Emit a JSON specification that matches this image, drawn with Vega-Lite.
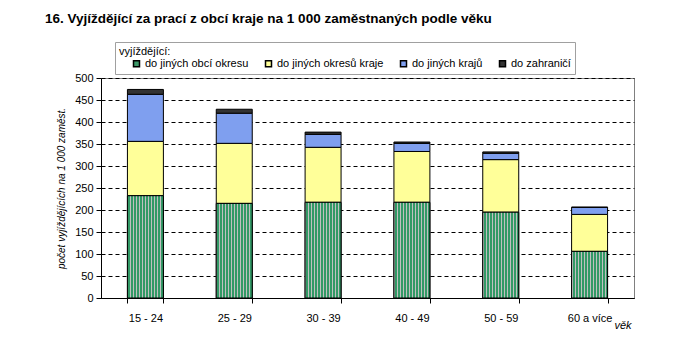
{
  "$schema": "https://vega.github.io/schema/vega-lite/v6.json",
  "width": 533,
  "height": 220,
  "autosize": {"type": "none"},
  "padding": {"left": 101, "top": 78, "right": 51, "bottom": 58},
  "background": "white",
  "title": {
    "text": "16. Vyjíždějící za prací z obcí kraje na 1 000 zaměstnaných podle věku",
    "anchor": "start",
    "frame": "group",
    "font": "Liberation Sans, Arial",
    "fontSize": 13.5,
    "fontWeight": "bold",
    "color": "black",
    "dx": -56,
    "dy": -12
  },
  "data": {
    "values": [
      {"vek": "15 - 24", "serie": "do jiných obcí okresu", "poradi": 1, "hodnota": 232.5},
      {"vek": "15 - 24", "serie": "do jiných okresů kraje", "poradi": 2, "hodnota": 123.5},
      {"vek": "15 - 24", "serie": "do jiných krajů", "poradi": 3, "hodnota": 107},
      {"vek": "15 - 24", "serie": "do zahraničí", "poradi": 4, "hodnota": 11},
      {"vek": "25 - 29", "serie": "do jiných obcí okresu", "poradi": 1, "hodnota": 215},
      {"vek": "25 - 29", "serie": "do jiných okresů kraje", "poradi": 2, "hodnota": 136.5},
      {"vek": "25 - 29", "serie": "do jiných krajů", "poradi": 3, "hodnota": 68.5},
      {"vek": "25 - 29", "serie": "do zahraničí", "poradi": 4, "hodnota": 9},
      {"vek": "30 - 39", "serie": "do jiných obcí okresu", "poradi": 1, "hodnota": 217.5},
      {"vek": "30 - 39", "serie": "do jiných okresů kraje", "poradi": 2, "hodnota": 125},
      {"vek": "30 - 39", "serie": "do jiných krajů", "poradi": 3, "hodnota": 29.5},
      {"vek": "30 - 39", "serie": "do zahraničí", "poradi": 4, "hodnota": 5},
      {"vek": "40 - 49", "serie": "do jiných obcí okresu", "poradi": 1, "hodnota": 217.5},
      {"vek": "40 - 49", "serie": "do jiných okresů kraje", "poradi": 2, "hodnota": 115.5},
      {"vek": "40 - 49", "serie": "do jiných krajů", "poradi": 3, "hodnota": 18.5},
      {"vek": "40 - 49", "serie": "do zahraničí", "poradi": 4, "hodnota": 3},
      {"vek": "50 - 59", "serie": "do jiných obcí okresu", "poradi": 1, "hodnota": 195},
      {"vek": "50 - 59", "serie": "do jiných okresů kraje", "poradi": 2, "hodnota": 119.5},
      {"vek": "50 - 59", "serie": "do jiných krajů", "poradi": 3, "hodnota": 14.5},
      {"vek": "50 - 59", "serie": "do zahraničí", "poradi": 4, "hodnota": 3},
      {"vek": "60 a více", "serie": "do jiných obcí okresu", "poradi": 1, "hodnota": 106},
      {"vek": "60 a více", "serie": "do jiných okresů kraje", "poradi": 2, "hodnota": 84},
      {"vek": "60 a více", "serie": "do jiných krajů", "poradi": 3, "hodnota": 16},
      {"vek": "60 a více", "serie": "do zahraničí", "poradi": 4, "hodnota": 0.5}
    ]
  },
  "encoding": {
    "x": {
      "field": "vek",
      "type": "nominal",
      "sort": null,
      "scale": {"paddingInner": 0.595, "paddingOuter": 0.2975},
      "axis": {
        "title": "věk",
        "titleFont": "Liberation Sans, Arial",
        "titleFontStyle": "italic",
        "titleFontWeight": "normal",
        "titleFontSize": 11,
        "titleColor": "black",
        "titleAnchor": "end",
        "titleAlign": "right",
        "titleBaseline": "alphabetic",
        "titleX": 530,
        "titleY": 30,
        "labelAngle": 0,
        "labelFont": "Liberation Sans, Arial",
        "labelFontSize": 11,
        "labelColor": "black",
        "labelPadding": 9,
        "tickBand": "extent",
        "tickColor": "black",
        "tickSize": 5,
        "domainColor": "black",
        "grid": false
      }
    }
  },
  "layer": [
    {
      "mark": {"type": "bar", "stroke": "black", "strokeWidth": 1},
      "encoding": {
        "y": {
          "field": "hodnota",
          "type": "quantitative",
          "stack": "zero",
          "scale": {"domain": [0, 500], "nice": false},
          "axis": {
            "title": "počet vyjíždějících na 1 000 zaměst.",
            "titleFont": "Liberation Sans, Arial",
            "titleFontStyle": "italic",
            "titleFontWeight": "normal",
            "titleFontSize": 10,
            "titleColor": "black",
            "titlePadding": 8,
            "values": [0, 50, 100, 150, 200, 250, 300, 350, 400, 450, 500],
            "labelOverlap": false,
            "labelFont": "Liberation Sans, Arial",
            "labelFontSize": 11,
            "labelColor": "black",
            "labelPadding": 3,
            "tickColor": "black",
            "tickSize": 5,
            "domainColor": "black",
            "grid": true,
            "gridColor": "black",
            "gridDash": [4, 3],
            "gridWidth": 1
          }
        },
        "order": {"field": "poradi", "type": "quantitative"},
        "color": {
          "field": "serie",
          "type": "nominal",
          "scale": {
            "domain": ["do jiných obcí okresu", "do jiných okresů kraje", "do jiných krajů", "do zahraničí"],
            "range": ["#3d9a6a", "#ffff99", "#7f9fef", "#333333"]
          },
          "legend": {
            "title": "vyjíždějící:",
            "orient": "none",
            "legendX": 14,
            "legendY": -36,
            "direction": "horizontal",
            "columns": 4,
            "columnPadding": 2,
            "padding": 4,
            "strokeColor": "#a0a0a0",
            "fillColor": "white",
            "titleFont": "Liberation Sans, Arial",
            "titleFontSize": 11,
            "titleFontWeight": "normal",
            "titleColor": "black",
            "titlePadding": 1,
            "labelFont": "Liberation Sans, Arial",
            "labelFontSize": 11,
            "labelColor": "black",
            "labelOffset": 3,
            "symbolOffset": 12,
            "symbolType": "square",
            "symbolSize": 36,
            "symbolStrokeColor": "black",
            "symbolStrokeWidth": 1.5
          }
        }
      }
    },
    {
      "transform": [{"filter": "datum.poradi == 1"}],
      "mark": {
        "type": "bar",
        "stroke": "black",
        "strokeWidth": 1,
        "fill": {
          "gradient": "linear", "x1": 0, "y1": 0, "x2": 1, "y2": 0,
          "stops": [
            {"offset": 0, "color": "#c0c0c0"}, {"offset": 0.0278, "color": "#c0c0c0"}, {"offset": 0.0278, "color": "#339966"}, {"offset": 0.0833, "color": "#339966"},
            {"offset": 0.0833, "color": "#c0c0c0"}, {"offset": 0.1111, "color": "#c0c0c0"}, {"offset": 0.1111, "color": "#339966"}, {"offset": 0.1667, "color": "#339966"},
            {"offset": 0.1667, "color": "#c0c0c0"}, {"offset": 0.1944, "color": "#c0c0c0"}, {"offset": 0.1944, "color": "#339966"}, {"offset": 0.25, "color": "#339966"},
            {"offset": 0.25, "color": "#c0c0c0"}, {"offset": 0.2778, "color": "#c0c0c0"}, {"offset": 0.2778, "color": "#339966"}, {"offset": 0.3333, "color": "#339966"},
            {"offset": 0.3333, "color": "#c0c0c0"}, {"offset": 0.3611, "color": "#c0c0c0"}, {"offset": 0.3611, "color": "#339966"}, {"offset": 0.4167, "color": "#339966"},
            {"offset": 0.4167, "color": "#c0c0c0"}, {"offset": 0.4444, "color": "#c0c0c0"}, {"offset": 0.4444, "color": "#339966"}, {"offset": 0.5, "color": "#339966"},
            {"offset": 0.5, "color": "#c0c0c0"}, {"offset": 0.5278, "color": "#c0c0c0"}, {"offset": 0.5278, "color": "#339966"}, {"offset": 0.5833, "color": "#339966"},
            {"offset": 0.5833, "color": "#c0c0c0"}, {"offset": 0.6111, "color": "#c0c0c0"}, {"offset": 0.6111, "color": "#339966"}, {"offset": 0.6667, "color": "#339966"},
            {"offset": 0.6667, "color": "#c0c0c0"}, {"offset": 0.6944, "color": "#c0c0c0"}, {"offset": 0.6944, "color": "#339966"}, {"offset": 0.75, "color": "#339966"},
            {"offset": 0.75, "color": "#c0c0c0"}, {"offset": 0.7778, "color": "#c0c0c0"}, {"offset": 0.7778, "color": "#339966"}, {"offset": 0.8333, "color": "#339966"},
            {"offset": 0.8333, "color": "#c0c0c0"}, {"offset": 0.8611, "color": "#c0c0c0"}, {"offset": 0.8611, "color": "#339966"}, {"offset": 0.9167, "color": "#339966"},
            {"offset": 0.9167, "color": "#c0c0c0"}, {"offset": 0.9444, "color": "#c0c0c0"}, {"offset": 0.9444, "color": "#339966"}, {"offset": 1, "color": "#339966"}
          ]
        }
      },
      "encoding": {
        "y": {
          "field": "hodnota",
          "type": "quantitative",
          "stack": null,
          "axis": {
            "title": "počet vyjíždějících na 1 000 zaměst.",
            "titleFont": "Liberation Sans, Arial",
            "titleFontStyle": "italic",
            "titleFontWeight": "normal",
            "titleFontSize": 10,
            "titleColor": "black",
            "titlePadding": 8,
            "values": [0, 50, 100, 150, 200, 250, 300, 350, 400, 450, 500],
            "labelOverlap": false,
            "labelFont": "Liberation Sans, Arial",
            "labelFontSize": 11,
            "labelColor": "black",
            "labelPadding": 3,
            "tickColor": "black",
            "tickSize": 5,
            "domainColor": "black",
            "grid": true,
            "gridColor": "black",
            "gridDash": [4, 3],
            "gridWidth": 1
          }
        }
      }
    }
  ],
  "config": {
    "view": {"stroke": "#808080", "strokeWidth": 1}
  }
}
